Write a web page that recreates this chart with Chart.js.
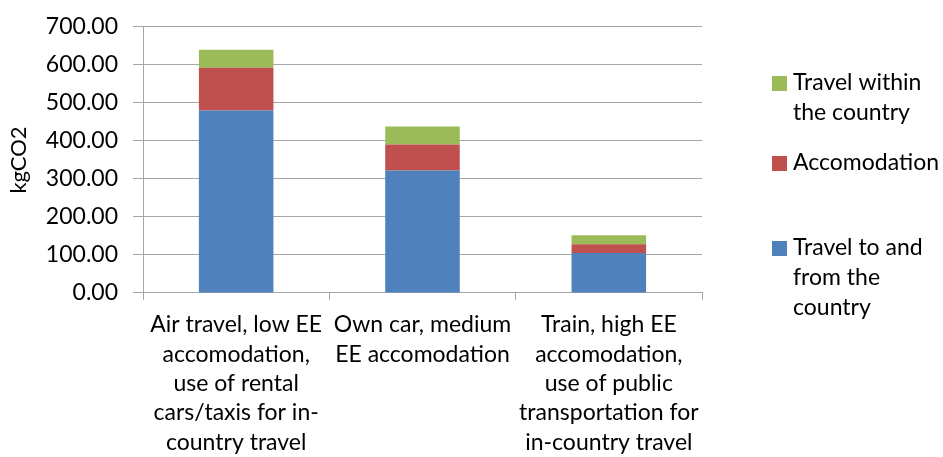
<!DOCTYPE html>
<html>
<head>
<meta charset="utf-8">
<script src="https://cdn.jsdelivr.net/npm/chart.js@4.4.1/dist/chart.umd.min.js"></script>
<style>
html, body { margin: 0; padding: 0; background: #fff; }
#wrap { width: 943px; height: 457px; }
</style>
</head>
<body>
<div id="wrap"><canvas id="chart" width="943" height="457"></canvas></div>
<script>
var categories = [
    ['Air travel, low EE', 'accomodation,', 'use of rental', 'cars/taxis for in-', 'country travel'],
    ['Own car, medium', 'EE accomodation'],
    ['Train, high EE', 'accomodation,', 'use of public', 'transportation for', 'in-country travel']
];
var travelToFrom = [480, 322, 105];
var accomodation = [113, 69, 23];
var travelWithin = [47, 47, 24];

var seriesNames = ['Travel to and from the country', 'Accomodation', 'Travel within the country'];
var legendLines = [
    ['Travel to and', 'from the', 'country'],
    ['Accomodation'],
    ['Travel within', 'the country']
];
var colors = ['#4f81bd', '#c0504d', '#9bbb59'];

var yMin = 0, yMax = 700, yStep = 100;

var FONT = 'Lato';
var gridColor = '#a6a6a6';

// legend on the right, drawn by hand so labels can wrap like the original
var sideLegend = {
    id: 'sideLegend',
    afterDraw: function(chart) {
        var ctx = chart.ctx;
        var tops = [248, 163, 83]; // first line centre of each item (bottom series first)
        ctx.save();
        ctx.font = '23px ' + FONT;
        ctx.textBaseline = 'middle';
        ctx.textAlign = 'left';
        chart.data.datasets.forEach(function(ds, i) {
            var y = tops[i];
            ctx.fillStyle = ds.backgroundColor;
            ctx.fillRect(772, y - 7, 15, 15);
            ctx.fillStyle = '#000';
            legendLines[i].forEach(function(line, j) {
                ctx.fillText(line, 793, y + j * 30);
            });
        });
        ctx.restore();
    }
};

var datasets = [travelToFrom, accomodation, travelWithin].map(function(vals, i) {
    return {
        label: seriesNames[i],
        data: vals,
        backgroundColor: colors[i],
        barPercentage: 0.4,
        categoryPercentage: 1.0
    };
});

new Chart(document.getElementById('chart'), {
    type: 'bar',
    data: {
        labels: categories,
        datasets: datasets
    },
    options: {
        responsive: false,
        animation: false,
        layout: {
            padding: { top: 14, right: 241, left: 0, bottom: 0 }
        },
        plugins: {
            legend: { display: false },
            tooltip: { enabled: false }
        },
        scales: {
            x: {
                stacked: true,
                grid: {
                    offset: true,
                    drawOnChartArea: false,
                    tickLength: 7,
                    color: gridColor
                },
                border: { color: gridColor },
                ticks: {
                    color: '#000',
                    font: { family: FONT, size: 23, lineHeight: 1.28 },
                    padding: 10,
                    maxRotation: 0,
                    autoSkip: false
                },
                afterFit: function(scale) { scale.height = 164; }
            },
            y: {
                stacked: true,
                min: yMin,
                max: yMax,
                grid: {
                    color: gridColor,
                    tickLength: 10
                },
                border: { color: gridColor },
                ticks: {
                    stepSize: yStep,
                    color: '#000',
                    font: { family: FONT, size: 23, lineHeight: 1.04 },
                    padding: 15,
                    callback: function(v) { return v.toFixed(2); }
                },
                title: {
                    display: true,
                    text: 'kgCO2',
                    color: '#000',
                    font: { family: FONT, size: 22 },
                    padding: { top: 6, bottom: 0 }
                },
                afterFit: function(scale) { scale.width = 143; }
            }
        }
    },
    plugins: [sideLegend]
});
</script>
</body>
</html>
